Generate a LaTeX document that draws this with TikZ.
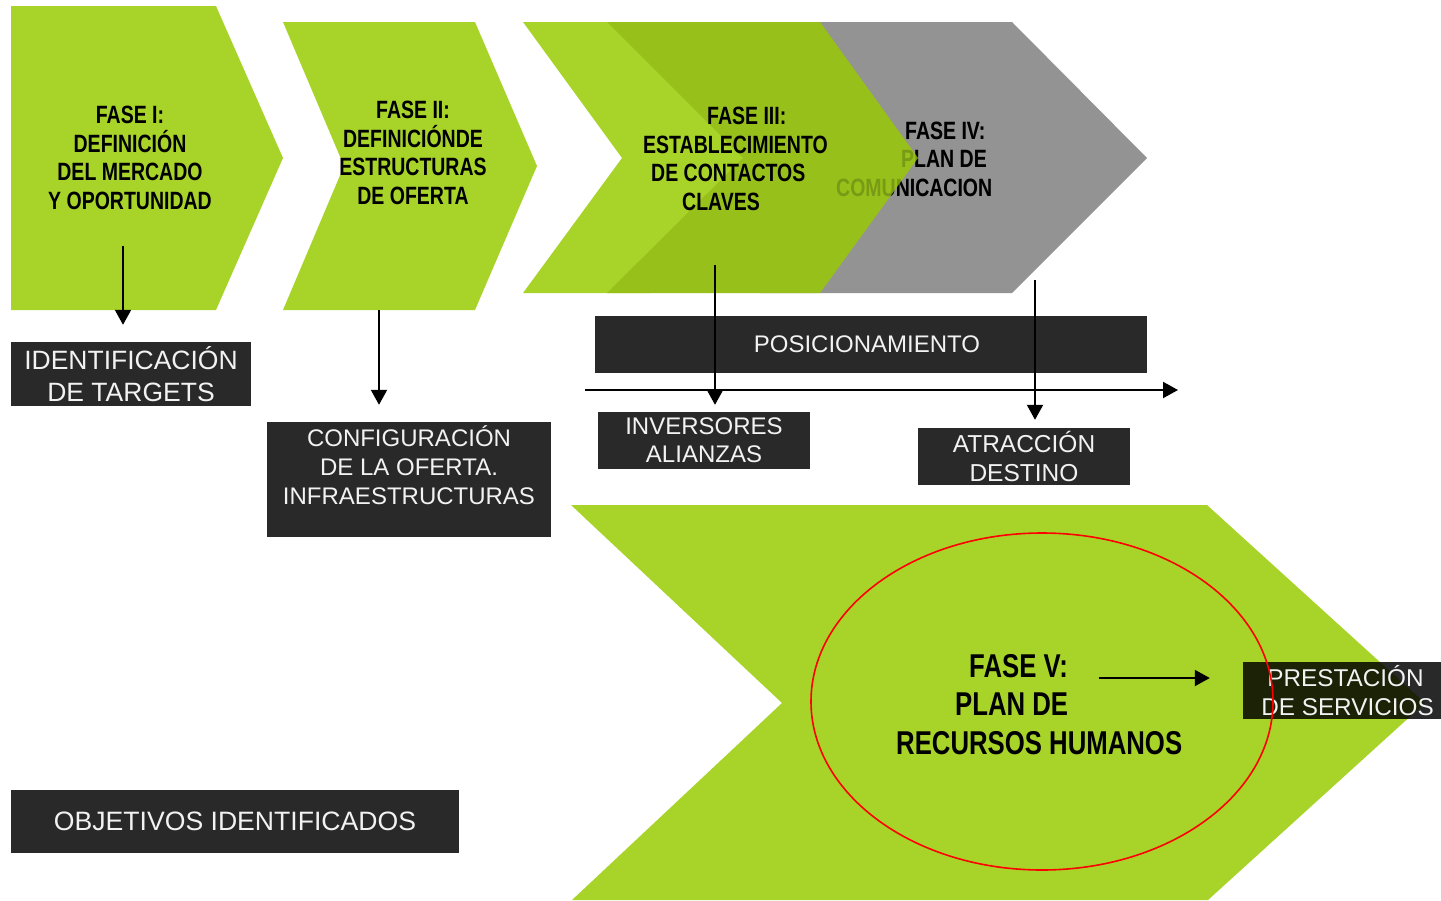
\documentclass[tikz,border=0pt]{standalone}
\usepackage{fontspec}
\setmainfont{Liberation Sans}
\newfontfamily\condfont{Liberation Sans}[FakeStretch=0.78]
\usetikzlibrary{arrows.meta}
\definecolor{lgreen}{RGB}{168,212,42}
\definecolor{dgreen}{RGB}{151,193,26}
\definecolor{chgray}{RGB}{147,147,147}
\definecolor{boxtext}{RGB}{242,242,242}
\begin{document}
\begin{tikzpicture}[x=1pt,y=-1pt,
  darkbox/.style={fill=black, fill opacity=0.84, text opacity=1, text=boxtext, inner sep=0pt, align=center, font=\fontsize{24}{29}\selectfont},
  phase/.style={font=\condfont\bfseries\fontsize{25}{28.5}\selectfont, inner sep=0pt, text=black},
  bigphase/.style={font=\condfont\bfseries\fontsize{33}{38.5}\selectfont, inner sep=0pt, text=black},
  arr/.style={line width=2pt, -{Triangle[length=15pt,width=16pt]}},
]
\useasboundingbox (0,0) rectangle (1441,900);
% chevrons
\fill[lgreen] (11,6) -- (216,6) -- (283,158) -- (216,310) -- (11,310) -- cycle;
\fill[lgreen] (283,22) -- (475,22) -- (537,166) -- (475,310) -- (283,310) -- (344,166) -- cycle;
\fill[chgray] (760,22) -- (1012,22) -- (1147,158) -- (1012,293) -- (760,293) -- cycle;
\node[phase, anchor=base west, align=left] (f4) at (836,196) {\hspace*{69pt}FASE IV:\\\hspace*{65pt}PLAN DE\\COMUNICACION};
\fill[lgreen] (523,22) -- (650,22) -- (780,158) -- (650,293) -- (523,293) -- (622,158) -- cycle;
\fill[dgreen] (607,22) -- (820,22) -- (918,158) -- (820,293) -- (607,293) -- (743,158) -- cycle;
\node[phase, anchor=base west, align=left, text opacity=0.2] (f4b) at (836,196) {\hspace*{69pt}FASE IV:\\\hspace*{65pt}PLAN DE\\COMUNICACION};
\fill[lgreen] (571,505) -- (1207,505) -- (1425,703) -- (1208,900) -- (572,900) -- (782,703) -- cycle;
% phase texts
\node[phase, anchor=base, align=center] (f1) at (130,209) {FASE I:\\DEFINICIÓN\\DEL MERCADO\\Y OPORTUNIDAD};
\node[phase, anchor=base, align=center] (f2) at (413,204) {FASE II:\\DEFINICIÓNDE\\ESTRUCTURAS\\DE OFERTA};
\node[phase, anchor=base west, align=left] (f3) at (643,210) {\hspace*{64pt}FASE III:\\ESTABLECIMIENTO\\\hspace*{8pt}DE CONTACTOS\\\hspace*{39pt}CLAVES};
\node[bigphase, anchor=base west, align=left] (f5) at (896,754) {\hspace*{73pt}FASE V:\\\hspace*{59pt}PLAN DE\\RECURSOS HUMANOS};
% boxes
\node[darkbox, minimum width=240pt, minimum height=64pt, font=\fontsize{26.5}{32}\selectfont] (ident) at (131,374) {IDENTIFICACIÓN\\DE TARGETS};
\node[darkbox, minimum width=284pt, minimum height=115pt] (config) at (409,479.5) {CONFIGURACIÓN\\DE LA OFERTA.\\INFRAESTRUCTURAS\\\mbox{}};
\node[darkbox, minimum width=552pt, minimum height=57pt, font=\fontsize{24}{28}\selectfont] (posic) at (871,344.5) {\hspace*{-8pt}POSICIONAMIENTO};
\node[darkbox, minimum width=212pt, minimum height=57pt, font=\fontsize{24}{28}\selectfont, text depth=0pt] (invers) at (704,440.5) {INVERSORES\\ALIANZAS};
\node[darkbox, minimum width=212pt, minimum height=57pt, font=\fontsize{24.5}{29}\selectfont] (atrac) at (1024,456.5) {ATRACCIÓN\\DESTINO};
\node[darkbox, minimum width=198pt, minimum height=57pt, font=\fontsize{24.3}{29}\selectfont] (prest) at (1342,690.5) {\hspace*{7pt}PRESTACIÓN\\\hspace*{11pt}DE SERVICIOS};
\node[darkbox, minimum width=448pt, minimum height=63pt, font=\fontsize{26.6}{30}\selectfont] (objet) at (235,821.5) {OBJETIVOS IDENTIFICADOS};
% arrows
\coordinate (s1) at (123,246);
\draw[arr, shorten >=17pt] (s1) -- (s1 |- ident.north);
\coordinate (s2) at (379,310);
\draw[arr, shorten >=17pt] (s2) -- (s2 |- config.north);
\coordinate (s3) at (715,265);
\draw[arr, shorten >=7pt] (s3) -- (s3 |- invers.north);
\coordinate (s4) at (1035,280);
\draw[arr, shorten >=8pt] (s4) -- (s4 |- atrac.north);
\coordinate (h1) at (585,390);
\coordinate (h2) at (1178,390);
\draw[arr] (h1) -- (h2);
\coordinate (s5) at (1099,678);
\draw[arr, shorten >=33pt] (s5) -- (s5 -| prest.west);
% ellipse
\draw[red, line width=1.6pt] (1042,701.5) ellipse [x radius=231, y radius=168.5];
\end{tikzpicture}
\end{document}
